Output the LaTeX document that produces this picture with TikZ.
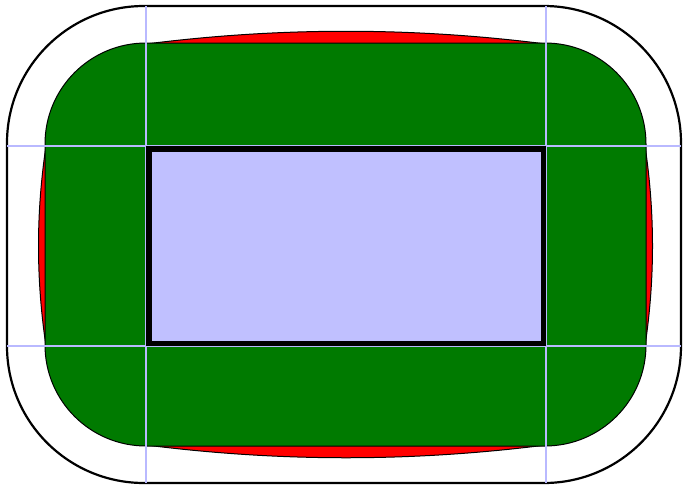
\documentclass[tikz,border=0pt]{standalone}
\definecolor{lav}{RGB}{192,192,255}
\definecolor{grn}{RGB}{0,122,0}
\definecolor{gridc}{RGB}{185,185,255}
\tikzset{
  outerbox/.style={draw=black, line width=2.2pt, fill=white, rounded corners=137pt},
  redshape/.style={draw=black, line width=1pt, fill=red},
  greenbox/.style={draw=black, line width=1pt, fill=grn, rounded corners=101pt},
  gridline/.style={draw=gridc, line width=1.1pt},
  innerbox/.style={draw=black, line width=5.5pt, fill=lav}
}
\begin{document}
\begin{tikzpicture}[x=1pt,y=-1pt]
\useasboundingbox (0,0) rectangle (683,488);
% outer rounded frame
\path[outerbox] (7,6) rectangle (681,483);
% red bulged shape
\path[redshape] (146,44) .. controls (280,27) and (412,27) .. (546,44)
  -- (645,146) .. controls (655,213) and (655,279) .. (645,346)
  -- (546,445) .. controls (412,462) and (280,462) .. (146,445)
  -- (46,346) .. controls (36,279) and (36,213) .. (46,146) -- cycle;
% green rounded rectangle
\path[greenbox] (45,43) rectangle (646,446);
% grid lines
\coordinate (vt1) at (146,6);   \coordinate (vb1) at (146,483);
\coordinate (vt2) at (546,6);   \coordinate (vb2) at (546,483);
\coordinate (hl1) at (7,146);   \coordinate (hr1) at (681,146);
\coordinate (hl2) at (7,346);   \coordinate (hr2) at (681,346);
\draw[gridline] (vt1) -- (vb1);
\draw[gridline] (vt2) -- (vb2);
\draw[gridline] (hl1) -- (hr1);
\draw[gridline] (hl2) -- (hr2);
% inner lavender rectangle
\path[innerbox] (148.8,148.8) rectangle (543.3,343.3);
\end{tikzpicture}
\end{document}
